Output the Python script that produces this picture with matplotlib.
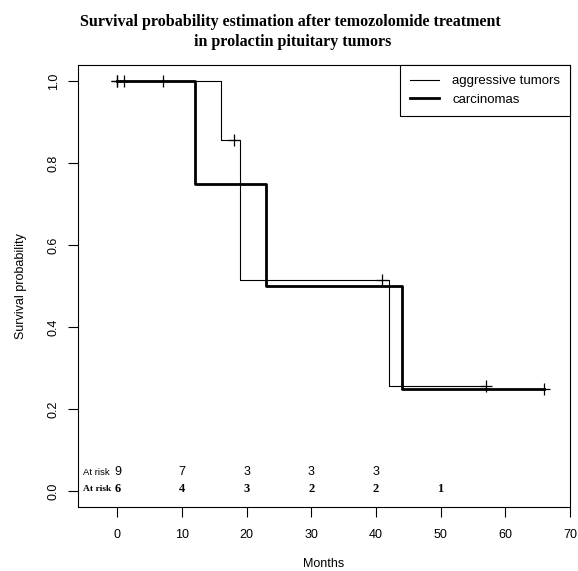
import matplotlib
matplotlib.use("Agg")
import matplotlib.pyplot as plt
import numpy as np

# Kaplan-Meier step curves
aggr_time = [0, 16, 19, 42, 57]
aggr_surv = [1.0, 0.857, 0.514, 0.257, 0.257]
aggr_cens = [0, 7, 18, 41, 57]

carc_time = [0, 12, 23, 44, 66]
carc_surv = [1.0, 0.75, 0.5, 0.25, 0.25]
carc_cens = [0, 1, 66]

risk_times = [0, 10, 20, 30, 40, 50]
aggr_risk = [9, 7, 3, 3, 3]
carc_risk = [6, 4, 3, 2, 2, 1]

x_ticks = [0, 10, 20, 30, 40, 50, 60, 70]
y_ticks = [0.0, 0.2, 0.4, 0.6, 0.8, 1.0]

def step_val(times, surv, t):
    idx = np.searchsorted(times, t, side="right") - 1
    return np.asarray(surv)[idx]

fig = plt.figure(figsize=(5.78, 5.71), dpi=100)
ax = fig.add_axes([0.135, 0.112, 0.851, 0.774])
sans = "Liberation Sans"
serif = "Liberation Serif"

l1, = ax.plot(aggr_time, aggr_surv, drawstyle="steps-post", color="black", lw=0.8)
l2, = ax.plot(carc_time, carc_surv, drawstyle="steps-post", color="black", lw=2.0)
ax.plot(aggr_cens, step_val(aggr_time, aggr_surv, aggr_cens), ls="none", marker="+",
        ms=9, mew=0.9, color="black")
ax.plot(carc_cens, step_val(carc_time, carc_surv, carc_cens), ls="none", marker="+",
        ms=9, mew=0.9, color="black")

# at-risk tables
ax.text(-5.4, 0.046, "At risk", fontsize=6.8, family=sans, ha="left", va="center")
for t, n in zip(risk_times, aggr_risk):
    ax.text(t, 0.046, str(n), fontsize=9, family=sans, ha="center", va="center")
ax.text(-5.4, 0.004, "At risk", fontsize=6.8, family=serif, fontweight="bold", ha="left", va="center")
for t, n in zip(risk_times, carc_risk):
    ax.text(t, 0.004, str(n), fontsize=9, family=serif, fontweight="bold", ha="center", va="center")

ax.set_xlim(-6.1, 70)
ax.set_ylim(-0.039, 1.039)
ax.set_xticks(x_ticks)
ax.set_yticks(y_ticks)
ax.set_xticklabels([str(v) for v in x_ticks], family=sans, fontsize=9)
ax.set_yticklabels([f"{v:.1f}" for v in y_ticks], family=sans, fontsize=9, rotation=90, va="center")
ax.tick_params(direction="out", length=7, width=0.8, pad=6)
ax.tick_params(axis="x", pad=9)
ax.set_xlabel("Months", family=sans, fontsize=9, labelpad=12)
ax.set_ylabel("Survival probability", family=sans, fontsize=9, labelpad=15)
for s in ax.spines.values():
    s.set_linewidth(0.8)

leg = ax.legend([l1, l2], ["aggressive tumors", "carcinomas"], loc="upper right",
                fancybox=False, edgecolor="black", framealpha=1, borderaxespad=0,
                prop={"family": sans, "size": 9.5}, handlelength=2.2, handletextpad=1.0,
                borderpad=0.75, labelspacing=0.5)
leg.get_frame().set_linewidth(0.8)

fig.text(0.503, 0.975, "Survival probability estimation after temozolomide treatment",
         ha="center", va="top", family=serif, fontweight="bold", fontsize=11.5)
fig.text(0.507, 0.94, "in prolactin pituitary tumors",
         ha="center", va="top", family=serif, fontweight="bold", fontsize=11.5)

fig.savefig("out.png", dpi=100)
